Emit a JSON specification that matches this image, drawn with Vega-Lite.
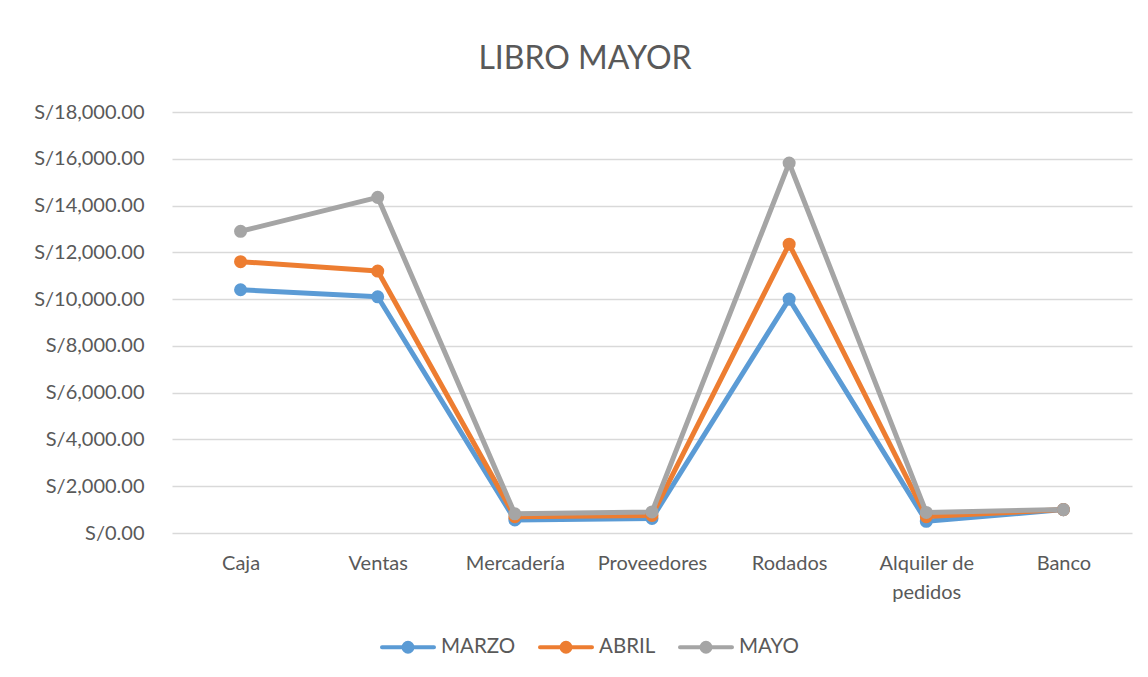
{
  "$schema": "https://vega.github.io/schema/vega-lite/v6.json",
  "width": 960,
  "height": 421,
  "autosize": {"type": "none"},
  "padding": {"left": 172, "top": 112, "right": 16, "bottom": 144},
  "background": "white",
  "title": {"text": "LIBRO MAYOR", "font": "Lato", "fontSize": 32, "fontWeight": "normal", "color": "#595959", "anchor": "middle", "frame": "group", "dx": -67, "offset": 26},
  "config": {
    "view": {"stroke": null},
    "axis": {"labelFont": "Lato", "labelFontSize": 20, "labelColor": "#595959", "ticks": false, "domain": false, "gridColor": "#D9D9D9", "gridWidth": 1.5, "title": null}
  },
  "data": {"values": [
    {"cuenta": "Caja", "mes": "MARZO", "monto": 10400},
    {"cuenta": "Ventas", "mes": "MARZO", "monto": 10100},
    {"cuenta": "Mercadería", "mes": "MARZO", "monto": 560},
    {"cuenta": "Proveedores", "mes": "MARZO", "monto": 620},
    {"cuenta": "Rodados", "mes": "MARZO", "monto": 10000},
    {"cuenta": "Alquiler de pedidos", "mes": "MARZO", "monto": 500},
    {"cuenta": "Banco", "mes": "MARZO", "monto": 1000},
    {"cuenta": "Caja", "mes": "ABRIL", "monto": 11600},
    {"cuenta": "Ventas", "mes": "ABRIL", "monto": 11200},
    {"cuenta": "Mercadería", "mes": "ABRIL", "monto": 700},
    {"cuenta": "Proveedores", "mes": "ABRIL", "monto": 750},
    {"cuenta": "Rodados", "mes": "ABRIL", "monto": 12350},
    {"cuenta": "Alquiler de pedidos", "mes": "ABRIL", "monto": 700},
    {"cuenta": "Banco", "mes": "ABRIL", "monto": 1000},
    {"cuenta": "Caja", "mes": "MAYO", "monto": 12900},
    {"cuenta": "Ventas", "mes": "MAYO", "monto": 14350},
    {"cuenta": "Mercadería", "mes": "MAYO", "monto": 820},
    {"cuenta": "Proveedores", "mes": "MAYO", "monto": 900},
    {"cuenta": "Rodados", "mes": "MAYO", "monto": 15820},
    {"cuenta": "Alquiler de pedidos", "mes": "MAYO", "monto": 880},
    {"cuenta": "Banco", "mes": "MAYO", "monto": 1000}
  ]},
  "encoding": {
    "x": {"field": "cuenta", "type": "nominal", "sort": null,
      "scale": {"paddingInner": 0, "paddingOuter": 0},
      "axis": {"labelAngle": 0, "grid": false, "labelPadding": 20, "labelLineHeight": 29,
        "labelExpr": "datum.label == 'Alquiler de pedidos' ? ['Alquiler de', 'pedidos'] : datum.label"}},
    "y": {"field": "monto", "type": "quantitative",
      "scale": {"domain": [0, 18000], "nice": false},
      "axis": {"values": [0, 2000, 4000, 6000, 8000, 10000, 12000, 14000, 16000, 18000], "labelPadding": 28,
        "labelExpr": "'S/' + format(datum.value, ',.2f')"}},
    "color": {"field": "mes", "type": "nominal", "sort": ["MARZO", "ABRIL", "MAYO"],
      "scale": {"domain": ["MARZO", "ABRIL", "MAYO"], "range": ["#5B9BD5", "#ED7D31", "#A5A5A5"]},
      "legend": {"orient": "none", "legendX": 208, "legendY": 507, "direction": "horizontal", "title": null,
        "symbolType": "M-1,0L1,0M-0.17,0A0.17,0.17 0 1,0 0.17,0A0.17,0.17 0 1,0 -0.17,0Z",
        "symbolSize": 2704, "symbolStrokeWidth": 4, "labelFont": "Lato", "labelFontSize": 20.5, "labelColor": "#595959",
        "labelOffset": 5, "columnPadding": 16,
        "encode": {"symbols": {"update": {"fill": {"scale": "color", "field": "value"}, "stroke": {"scale": "color", "field": "value"}, "strokeCap": {"value": "round"}, "opacity": {"value": 1}}}}}}
  },
  "layer": [
    {"mark": {"type": "line", "strokeWidth": 5, "strokeCap": "round", "strokeJoin": "round"}},
    {"mark": {"type": "point", "filled": true, "size": 170, "opacity": 1}}
  ]
}
